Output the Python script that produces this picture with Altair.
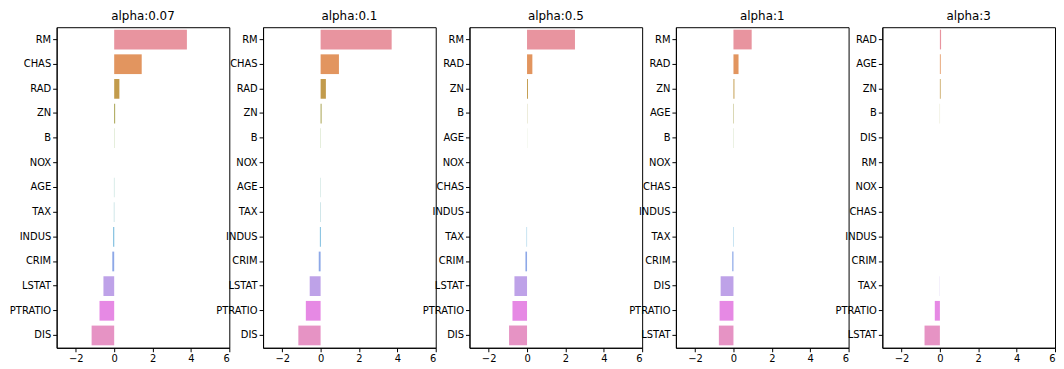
import altair as alt
import pandas as pd

alphas = ["0.07", "0.1", "0.5", "1", "3"]

features_a007 = ["RM", "CHAS", "RAD", "ZN", "B", "NOX", "AGE", "TAX", "INDUS", "CRIM", "LSTAT", "PTRATIO", "DIS"]
coefs_a007 = [3.7897, 1.4343, 0.2709, 0.0491, 0.0102, -0.0, -0.0117, -0.0143, -0.0421, -0.0982, -0.5604, -0.7651, -1.1766]

features_a01 = ["RM", "CHAS", "RAD", "ZN", "B", "NOX", "AGE", "TAX", "INDUS", "CRIM", "LSTAT", "PTRATIO", "DIS"]
coefs_a01 = [3.7032, 0.9552, 0.2747, 0.0492, 0.0102, -0.0, -0.0100, -0.0146, -0.0366, -0.0979, -0.5688, -0.7707, -1.1605]

features_a05 = ["RM", "RAD", "ZN", "B", "AGE", "NOX", "CHAS", "INDUS", "TAX", "CRIM", "LSTAT", "PTRATIO", "DIS"]
coefs_a05 = [2.4982, 0.2775, 0.0495, 0.0099, 0.0036, -0.0, 0.0, -0.0, -0.0154, -0.0833, -0.6563, -0.7588, -0.9366]

features_a1 = ["RM", "RAD", "ZN", "AGE", "B", "NOX", "CHAS", "INDUS", "TAX", "CRIM", "DIS", "PTRATIO", "LSTAT"]
coefs_a1 = [0.9498, 0.2642, 0.0492, 0.0209, 0.0082, -0.0, 0.0, -0.0, -0.0152, -0.0634, -0.6688, -0.7230, -0.7611]

features_a3 = ["RAD", "AGE", "ZN", "B", "DIS", "RM", "NOX", "CHAS", "INDUS", "CRIM", "TAX", "PTRATIO", "LSTAT"]
coefs_a3 = [0.0619, 0.0425, 0.0383, 0.0065, -0.0, 0.0, -0.0, 0.0, -0.0, -0.0, -0.0086, -0.2651, -0.8004]

palette = ["#e8949f", "#e2955f", "#c29b4c", "#a39e47", "#7da64c", "#55ab7c",
           "#56a99a", "#58a7b1", "#47a2d1", "#8da8e7", "#bea2e8", "#e689e4", "#e693c4"]

all_features = [features_a007, features_a01, features_a05, features_a1, features_a3]
all_coefs = [coefs_a007, coefs_a01, coefs_a05, coefs_a1, coefs_a3]

rows = []
for a, feats, cfs in zip(alphas, all_features, all_coefs):
    for i, (f, c) in enumerate(zip(feats, cfs)):
        rows.append({"alpha": a, "feature": f, "coef": c, "rank": i})
df = pd.DataFrame(rows)

panels = []
for a in alphas:
    p = (
        alt.Chart(df)
        .transform_filter(alt.datum.alpha == a)
        .mark_bar()
        .encode(
            x=alt.X("coef:Q",
                    scale=alt.Scale(domain=[-3, 6], nice=False, zero=False),
                    axis=alt.Axis(values=[-2, 0, 2, 4, 6], title=None, grid=False, format="~r")),
            x2=alt.datum(0),
            y=alt.Y("feature:N",
                    sort=alt.EncodingSortField(field="rank", order="ascending"),
                    scale=alt.Scale(paddingInner=0.2, paddingOuter=0.1),
                    axis=alt.Axis(title=None, grid=False)),
            color=alt.Color("rank:O", scale=alt.Scale(domain=list(range(13)), range=palette), legend=None),
        )
        .properties(width=174, height=323, title="alpha:" + a)
    )
    panels.append(p)

chart = (
    alt.hconcat(*panels, spacing=34, bounds="flush")
    .resolve_scale(y="independent", x="independent", color="independent")
    .configure_view(stroke="black", strokeWidth=1)
    .configure_axis(
        labelFont="DejaVu Sans", labelFontSize=10, labelColor="black",
        domainColor="black", tickColor="black", tickSize=4, labelPadding=2,
        domain=True,
    )
    .configure_title(font="DejaVu Sans", fontSize=12, fontWeight="normal", color="black", offset=0)
    .properties(padding={"left": 0, "top": 0, "right": 0, "bottom": 0}, background="white")
)

chart.save("out.html", embed_options={"renderer": "svg", "actions": False})
